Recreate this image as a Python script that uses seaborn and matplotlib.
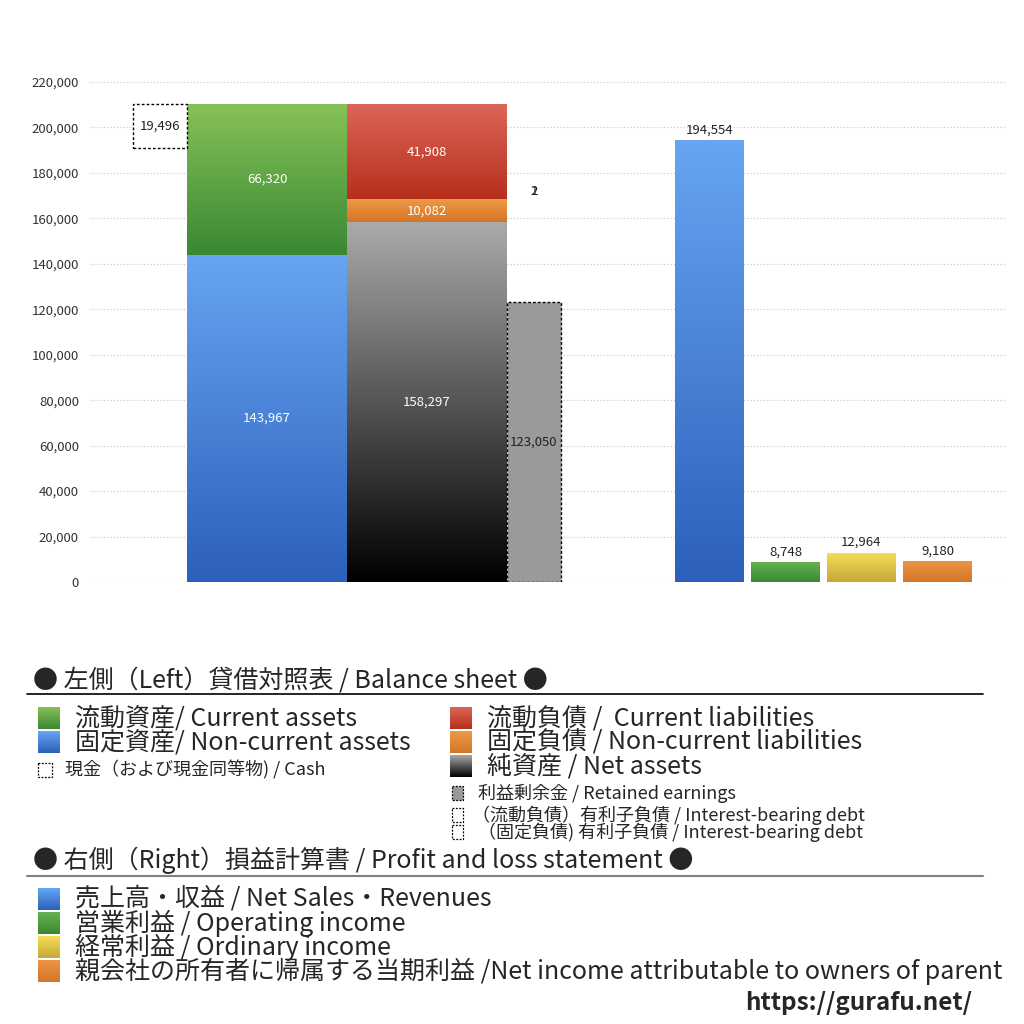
import numpy as np
import matplotlib
matplotlib.use("Agg")
import matplotlib.pyplot as plt
from matplotlib.colors import LinearSegmentedColormap
from matplotlib.patches import Rectangle
import seaborn as sns

sns.set_style("white")
plt.rcParams['font.family'] = ['Noto Sans CJK JP', 'DejaVu Sans']

# 貸借対照表 (左側)
cash = 19496
current_assets = 66320
noncurrent_assets = 143967
current_liabilities = 41908
noncurrent_liabilities = 10082
net_assets = 158297
retained_earnings = 123050
debt_labels = ["1", "2"]
debt_level = 172000

# 損益計算書 (右側)
pl_names = ["売上高・収益", "営業利益", "経常利益", "親会社の所有者に帰属する当期利益"]
pl_values = [194554, 8748, 12964, 9180]

yticks = np.arange(0, 220001, 20000)

# colours (top, bottom)
c_green = ("#86c256", "#3a8834")
c_blue = ("#66a6f2", "#2d5fbb")
c_red = ("#dc665a", "#b72f1c")
c_orange = ("#ec9a42", "#d5752a")
c_black = ("#aaaaaa", "#000000")
c_pl = [c_blue, ("#66b150", "#3a8834"), ("#f3e058", "#c8a638"), ("#ec9442", "#d5752a")]


def grad(ax, patch, top, bottom, ext):
    cmap = LinearSegmentedColormap.from_list("g", [bottom, top])
    img = np.linspace(1, 0, 256).reshape(-1, 1)
    im = ax.imshow(img, cmap=cmap, extent=ext, aspect="auto", origin="upper",
                   zorder=2, vmin=0, vmax=1)
    im.set_clip_path(patch)


def gbar(ax, left, width, height, bottom, cols):
    b = ax.bar(left, height, width, bottom=bottom, align="edge",
               color="none", edgecolor="none", zorder=2)[0]
    grad(ax, b, cols[0], cols[1], [left, left + width, bottom, bottom + height])
    return b


def mid_label(ax, left, width, bottom, height, value, color="white"):
    ax.text(left + width / 2, bottom + height / 2, f"{value:,}", ha="center",
            va="center", color=color, fontsize=9.5, zorder=5)


fig = plt.figure(figsize=(10.24, 10.24), dpi=100)
ax = fig.add_axes([90 / 1024, 1 - 582 / 1024, 917 / 1024, 500 / 1024])

# layout (axis units)
w_big, w_small, w_pl, step_pl = 160, 54, 69, 76
x_cash, x_assets = 43, 97
x_liab = x_assets + w_big
x_re = x_liab + w_big
x_pl = 585

total_assets = current_assets + noncurrent_assets

# assets
gbar(ax, x_assets, w_big, noncurrent_assets, 0, c_blue)
gbar(ax, x_assets, w_big, current_assets, noncurrent_assets, c_green)
mid_label(ax, x_assets, w_big, 0, noncurrent_assets, noncurrent_assets)
mid_label(ax, x_assets, w_big, noncurrent_assets, current_assets, current_assets)

# cash (dotted box at the top of assets)
ax.bar(x_cash, cash, w_small, bottom=total_assets - cash, align="edge",
       color="white", edgecolor="black", linewidth=1, linestyle=(0, (2, 1.5)), zorder=3)
mid_label(ax, x_cash, w_small, total_assets - cash, cash, cash, color="#222222")

# liabilities + net assets
gbar(ax, x_liab, w_big, net_assets, 0, c_black)
gbar(ax, x_liab, w_big, noncurrent_liabilities, net_assets, c_orange)
gbar(ax, x_liab, w_big, current_liabilities, net_assets + noncurrent_liabilities, c_red)
mid_label(ax, x_liab, w_big, 0, net_assets, net_assets)
mid_label(ax, x_liab, w_big, net_assets, noncurrent_liabilities, noncurrent_liabilities)
mid_label(ax, x_liab, w_big, net_assets + noncurrent_liabilities,
          current_liabilities, current_liabilities)

# retained earnings
ax.bar(x_re, retained_earnings, w_small, align="edge", color="#9a9a9a",
       edgecolor="black", linewidth=1, linestyle=(0, (2, 1.5)), zorder=3)
mid_label(ax, x_re, w_small, 0, retained_earnings, retained_earnings, color="#222222")

# interest-bearing debt labels
for lab in debt_labels:
    ax.text(x_re + w_small / 2, debt_level, lab, ha="center", va="center",
            fontsize=9.5, color="#222222", zorder=5)

# P&L bars
for i, (v, cols) in enumerate(zip(pl_values, c_pl)):
    left = x_pl + i * step_pl
    gbar(ax, left, w_pl, v, 0, cols)
    ax.text(left + w_pl / 2, v + 1500, f"{v:,}", ha="center", va="bottom",
            fontsize=9.5, color="#222222", zorder=5)

ax.set_xlim(0, 917)
ax.set_ylim(0, 220000)
ax.set_yticks(yticks)
ax.set_yticklabels([f"{t:,}" for t in yticks], fontsize=9.5, color="#333333")
ax.set_xticks([])
ax.tick_params(axis="y", length=0, pad=8)
ax.grid(axis="y", color="#c4c4c4", linewidth=0.8, linestyle=(0, (1, 2)), zorder=0)
ax.set_axisbelow(True)
for s in ax.spines.values():
    s.set_visible(False)

# legend area (pixel coords)
ov = fig.add_axes([0, 0, 1, 1], zorder=-1)
ov.set_xlim(0, 1024)
ov.set_ylim(1024, 0)
ov.axis("off")


def lsq(x, y, w, h, cols):
    r = Rectangle((x, y), w, h, facecolor="none", edgecolor="none")
    ov.add_patch(r)
    grad(ov, r, cols[0], cols[1], [x, x + w, y + h, y])


def dsq(x, y, w, h, face="white"):
    ov.add_patch(Rectangle((x, y), w, h, facecolor=face, edgecolor="black",
                           linewidth=0.9, linestyle=(0, (1.5, 1.2))))


big, small = 18, 13
ov.text(33, 680, "● 左側（Left）貸借対照表 / Balance sheet ●", fontsize=big, va="center")
ov.plot([27, 983], [694, 694], color="black", linewidth=1.2)

lsq(38, 707, 22, 22, c_green)
lsq(38, 731, 22, 22, c_blue)
ov.text(75, 719, "流動資産/ Current assets", fontsize=big, va="center")
ov.text(75, 743, "固定資産/ Non-current assets", fontsize=big, va="center")
dsq(38, 763, 14, 14)
ov.text(65, 770, "現金（および現金同等物) / Cash", fontsize=small, va="center")

lsq(450, 707, 22, 22, c_red)
lsq(450, 731, 22, 22, c_orange)
lsq(450, 755, 22, 22, ("#aaaaaa", "#000000"))
ov.text(487, 719, "流動負債 /  Current liabilities", fontsize=big, va="center")
ov.text(487, 743, "固定負債 / Non-current liabilities", fontsize=big, va="center")
ov.text(487, 767, "純資産 / Net assets", fontsize=big, va="center")
dsq(452, 786, 11, 14, face="#9a9a9a")
ov.text(478, 793, "利益剰余金 / Retained earnings", fontsize=small, va="center")
dsq(452, 808, 11, 14)
dsq(452, 825, 11, 14)
ov.text(472, 815, "（流動負債）有利子負債 / Interest-bearing debt", fontsize=small, va="center")
ov.text(478, 832, "（固定負債) 有利子負債 / Interest-bearing debt", fontsize=small, va="center")

ov.text(33, 860, "● 右側（Right）損益計算書 / Profit and loss statement ●", fontsize=big, va="center")
ov.plot([27, 983], [876, 876], color="#808080", linewidth=1.5)

pl_en = ["Net Sales・Revenues", "Operating income", "Ordinary income",
         "Net income attributable to owners of parent"]
seps = [" / ", " / ", " / ", " /"]
for i, (jp, en, sp, cols) in enumerate(zip(pl_names, pl_en, seps, c_pl)):
    yc = 899 + i * 24
    lsq(38, yc - 11, 22, 22, cols)
    ov.text(75, yc, jp + sp + en, fontsize=big, va="center")

ov.text(972, 1003, "https://gurafu.net/", fontsize=17.5, fontweight="bold",
        ha="right", va="center")

fig.savefig("out.png", dpi=100, facecolor="white")
